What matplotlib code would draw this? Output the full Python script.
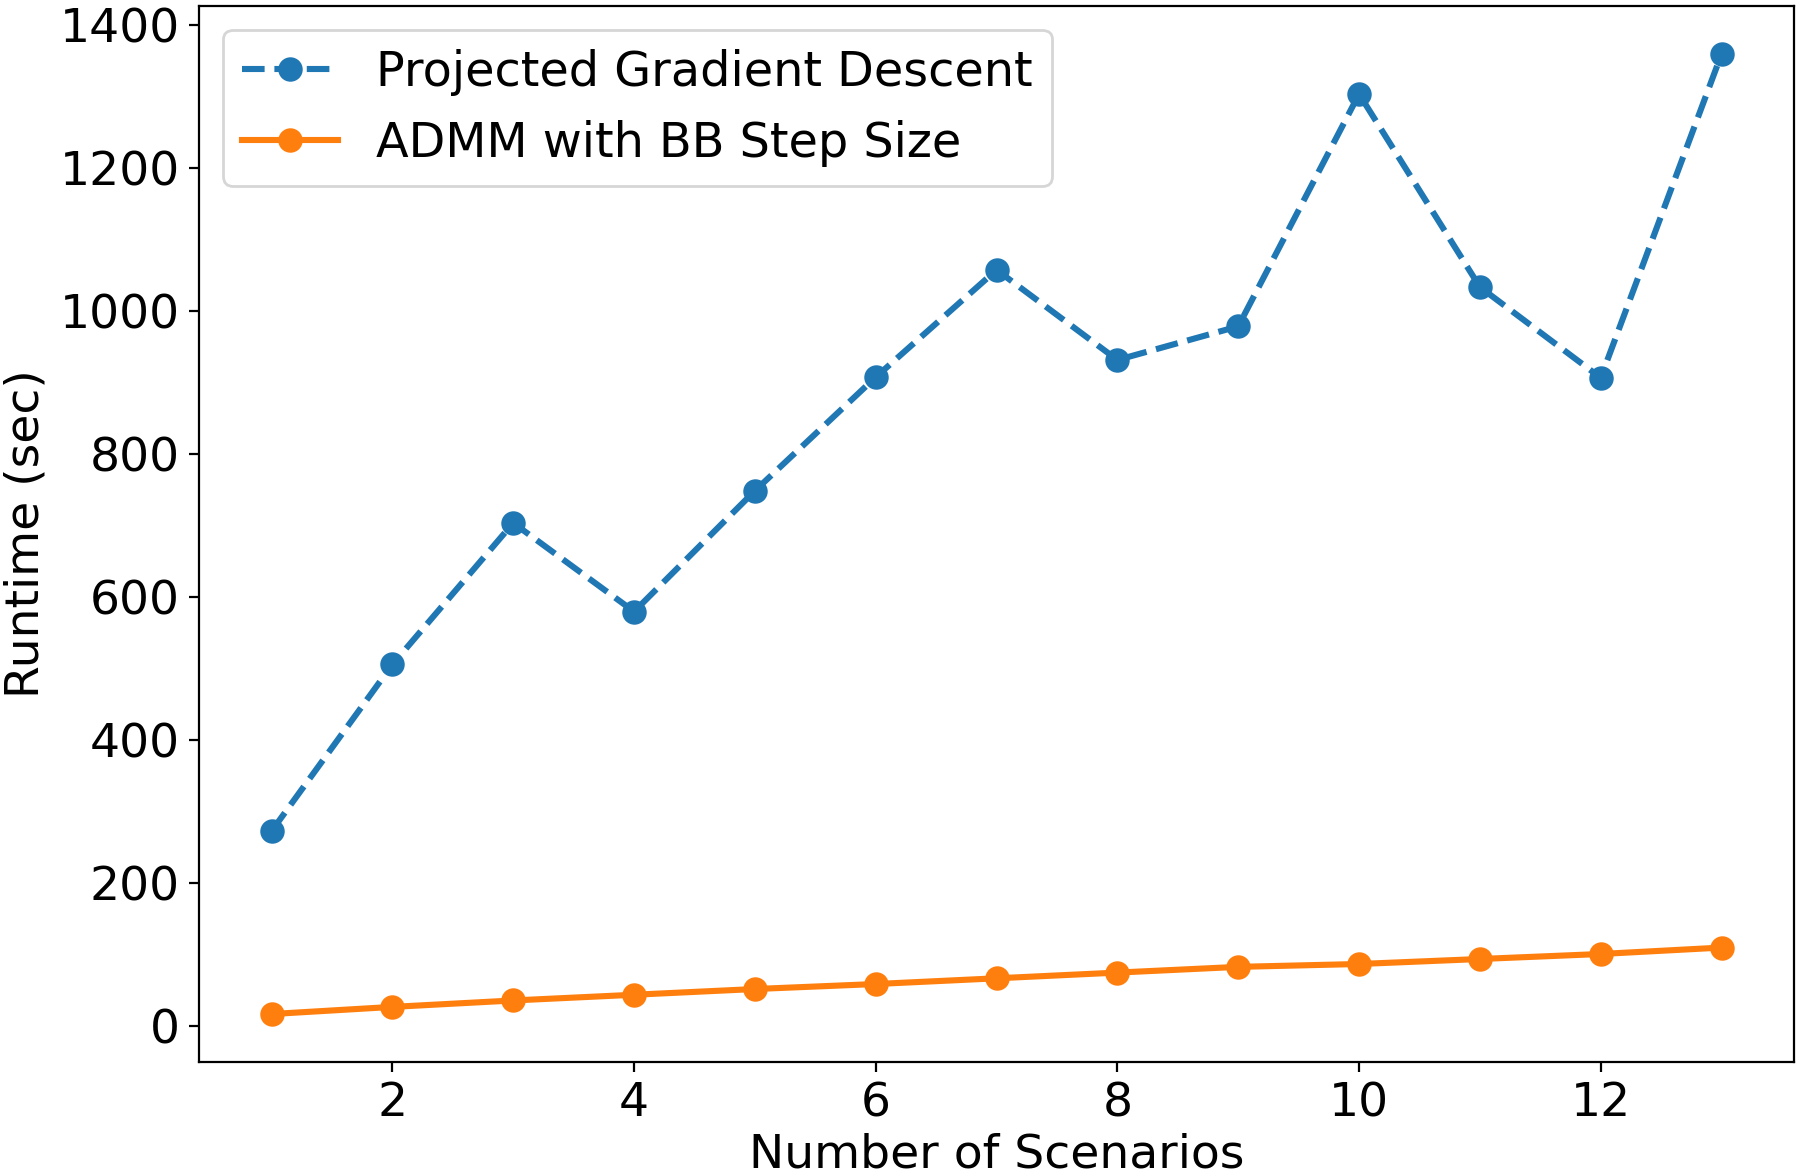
import matplotlib
matplotlib.use("Agg")
import matplotlib.pyplot as plt

scenarios = list(range(1, 14))
pgd_runtime = [273, 506, 704, 580, 749, 908, 1058, 932, 979, 1304, 1034, 907, 1360]
admm_runtime = [17, 27, 36, 44, 52, 59, 67, 75, 83, 87, 94, 101, 110]

plt.rcParams['font.size'] = 17
fig, ax = plt.subplots(figsize=(9, 5.88), dpi=200)
fig.subplots_adjust(left=0.1106, right=0.9967, top=0.9949, bottom=0.0969)

ax.plot(scenarios, pgd_runtime, '--o', color='#1f77b4', lw=2.2, ms=7.8,
        label='Projected Gradient Descent')
ax.plot(scenarios, admm_runtime, '-o', color='#ff7f0e', lw=2.2, ms=7.8,
        label='ADMM with BB Step Size')

ax.set_xlabel('Number of Scenarios', labelpad=2)
ax.set_ylabel('Runtime (sec)')
ax.set_yticks(range(0, 1401, 200))
ax.legend(loc='upper left', fontsize=17.2, labelspacing=0.5)

fig.savefig('out.png', dpi=200)
